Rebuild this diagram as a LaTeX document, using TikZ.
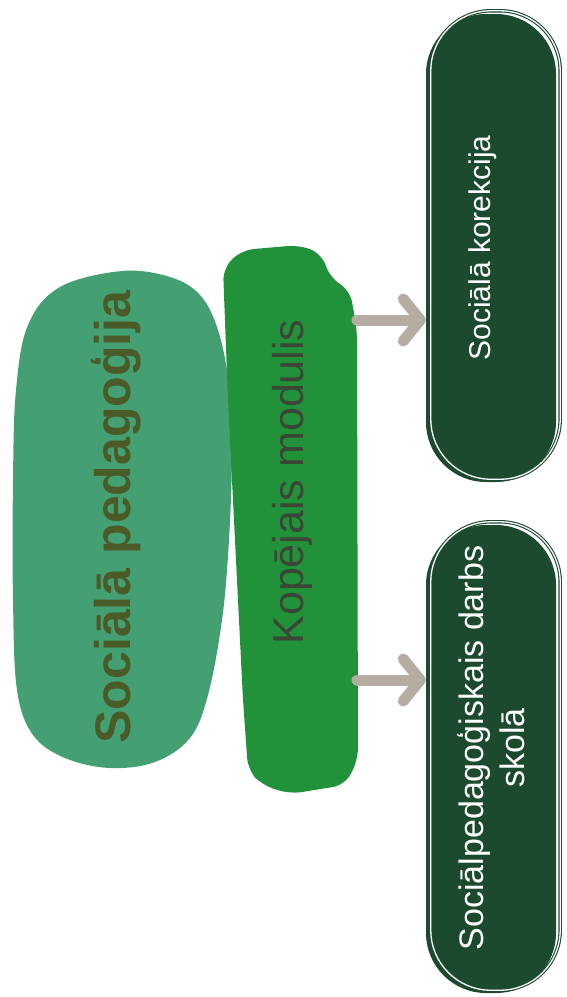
\documentclass[tikz,border=0pt]{standalone}
\usepackage{fontspec}
\setmainfont{Liberation Sans}
\usepackage{tikz}
\usetikzlibrary{positioning,arrows.meta,calc}
\definecolor{leaf}{HTML}{44A073}
\definecolor{olive}{HTML}{4B5B27}
\definecolor{grass}{HTML}{22923A}
\definecolor{moss}{HTML}{3B4636}
\definecolor{pine}{HTML}{1B4A2F}
\definecolor{stone}{HTML}{B5ACA2}

\begin{document}
\begin{tikzpicture}[
  x=1pt,y=-1pt,
  lbl/.style={rotate=90,align=center,inner sep=0pt},
  card/.style={fill=pine,rounded corners=60pt,minimum width=130pt,minimum height=468pt,inner sep=0pt},
  sketch/.style={draw=pine,line width=1.1pt,double=white,double distance=1.3pt,rounded corners=60pt},
  arr/.style={-{Straight Barb[length=17pt,width=42pt,round]},line width=11pt,draw=stone,line cap=round}]
  \useasboundingbox (0,0) rectangle (567,997);
  % left blob
  \fill[leaf] plot[smooth cycle,tension=0.6] coordinates {(122,271) (170,277) (200,295) (218,330)
    (229,385) (232,450) (229,540) (222,620) (208,695) (190,738) (155,762) (110,768) (65,758)
    (33,735) (17,690) (13,600) (13,480) (16,390) (28,325) (60,287)};
  \node[lbl,font=\fontsize{50}{56}\selectfont\bfseries,text=olive] (pedag) at (116,517) {Sociālā pedagoģija};
  % middle stripe
  \fill[grass,rounded corners=12pt] (223,268) -- (242,250) -- (300,245) -- (322,254) -- (330,278)
    -- (350,290) -- (357,330) -- (358,760) -- (345,785) -- (290,794) -- (262,785) -- (248,770)
    -- (243,700) -- (228,400) -- cycle;
  \node[lbl,font=\fontsize{43}{48}\selectfont,text=moss] (modulis) at (292,482) {Kopējais modulis};
  % right cards
  \node[card] (korekc) at (491,248) {};
  \draw[sketch] ($(korekc.south west)+(5,-3)$) rectangle ($(korekc.north east)+(4,-3)$);
  \node[lbl,font=\fontsize{30}{36}\selectfont,text=white] (korekcT) at (483,248) {Sociālā korekcija};
  \node[card] (skola) at (491,759) {};
  \draw[sketch] ($(skola.south west)+(5,-3)$) rectangle ($(skola.north east)+(4,-3)$);
  \node[lbl,font=\fontsize{34}{41}\selectfont,text=white] (skolaT) at (491,748) {Sociālpedagoģiskais darbs\\skolā};
  % arrows
  \coordinate (from1) at (357,320);
  \coordinate (from2) at (357,680);
  \draw[arr] (from1) -- (from1 -| korekc.west);
  \draw[arr] (from2) -- (from2 -| skola.west);
\end{tikzpicture}
\end{document}
